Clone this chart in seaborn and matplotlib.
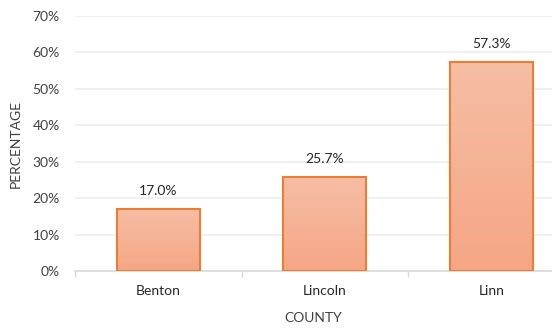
import matplotlib
matplotlib.use("Agg")
import matplotlib.pyplot as plt
import numpy as np
import pandas as pd
import seaborn as sns
from matplotlib.colors import LinearSegmentedColormap
from matplotlib.ticker import PercentFormatter, FixedLocator

counties = ["Benton", "Lincoln", "Linn"]
percentages = [17.0, 25.7, 57.3]
value_labels = ["17.0%", "25.7%", "57.3%"]
y_ticks = [0, 10, 20, 30, 40, 50, 60, 70]

sns.set_theme(style="white")
plt.rcParams['font.family'] = ['Lato', 'DejaVu Sans']

df = pd.DataFrame({"County": counties, "Percentage": percentages})

W, H = 552, 328
fig = plt.figure(figsize=(W / 100, H / 100), dpi=100)
left_px, right_px, top_px, bottom_px = 75, 552, 16, 271
ax = fig.add_axes([left_px / W, (H - bottom_px) / H, (right_px - left_px) / W, (bottom_px - top_px) / H])

sns.barplot(data=df, x="County", y="Percentage", ax=ax, width=0.5,
            color="#F5B193", edgecolor="#ED7D31", linewidth=1.5, zorder=3)

cat_px = 166.5
ax.set_xlim(-0.5, -0.5 + (right_px - left_px) / cat_px)
ax.set_ylim(0, 70)

# gradient fill
cmap = LinearSegmentedColormap.from_list("g", ["#F5A684", "#F6BEA5"])
grad = np.linspace(0, 1, 256).reshape(-1, 1)
for p in list(ax.patches):
    x0, y0 = p.get_x(), p.get_y()
    w, h = p.get_width(), p.get_height()
    im = ax.imshow(grad, cmap=cmap, origin="lower", aspect="auto",
                   extent=[x0, x0 + w, y0, y0 + h], zorder=3.5)
    im.set_clip_path(p)
    p.set_facecolor("none")
    p.set_zorder(4)
ax.set_xlim(-0.5, -0.5 + (right_px - left_px) / cat_px)
ax.set_ylim(0, 70)

fs = 10
for i, (v, lab) in enumerate(zip(percentages, value_labels)):
    ax.annotate(lab, (i, v), xytext=(0, 9), textcoords="offset points",
                ha="center", va="bottom", fontsize=fs, color="#262626")

ax.set_yticks(y_ticks)
ax.yaxis.set_major_formatter(PercentFormatter(decimals=0))
ax.yaxis.grid(True, color="#EDEDED", linewidth=1.2, zorder=0)
ax.set_axisbelow(True)

for s in ["top", "right", "left"]:
    ax.spines[s].set_visible(False)
ax.spines["bottom"].set_color("#D9D9D9")
ax.spines["bottom"].set_linewidth(1.2)

ax.tick_params(axis="y", length=0, labelsize=fs, labelcolor="#404040", pad=11)
ax.tick_params(axis="x", which="major", length=0, labelsize=fs, labelcolor="#262626", pad=10)
ax.xaxis.set_minor_locator(FixedLocator([-0.5, 0.5, 1.5, 2.5]))
ax.tick_params(axis="x", which="minor", bottom=True, length=4, width=1, color="#D9D9D9")

ax.set_xlabel("COUNTY", fontsize=fs, color="#404040", labelpad=11)
ax.set_ylabel("PERCENTAGE", fontsize=fs, color="#404040", labelpad=8)

fig.savefig("out.png", dpi=100)
